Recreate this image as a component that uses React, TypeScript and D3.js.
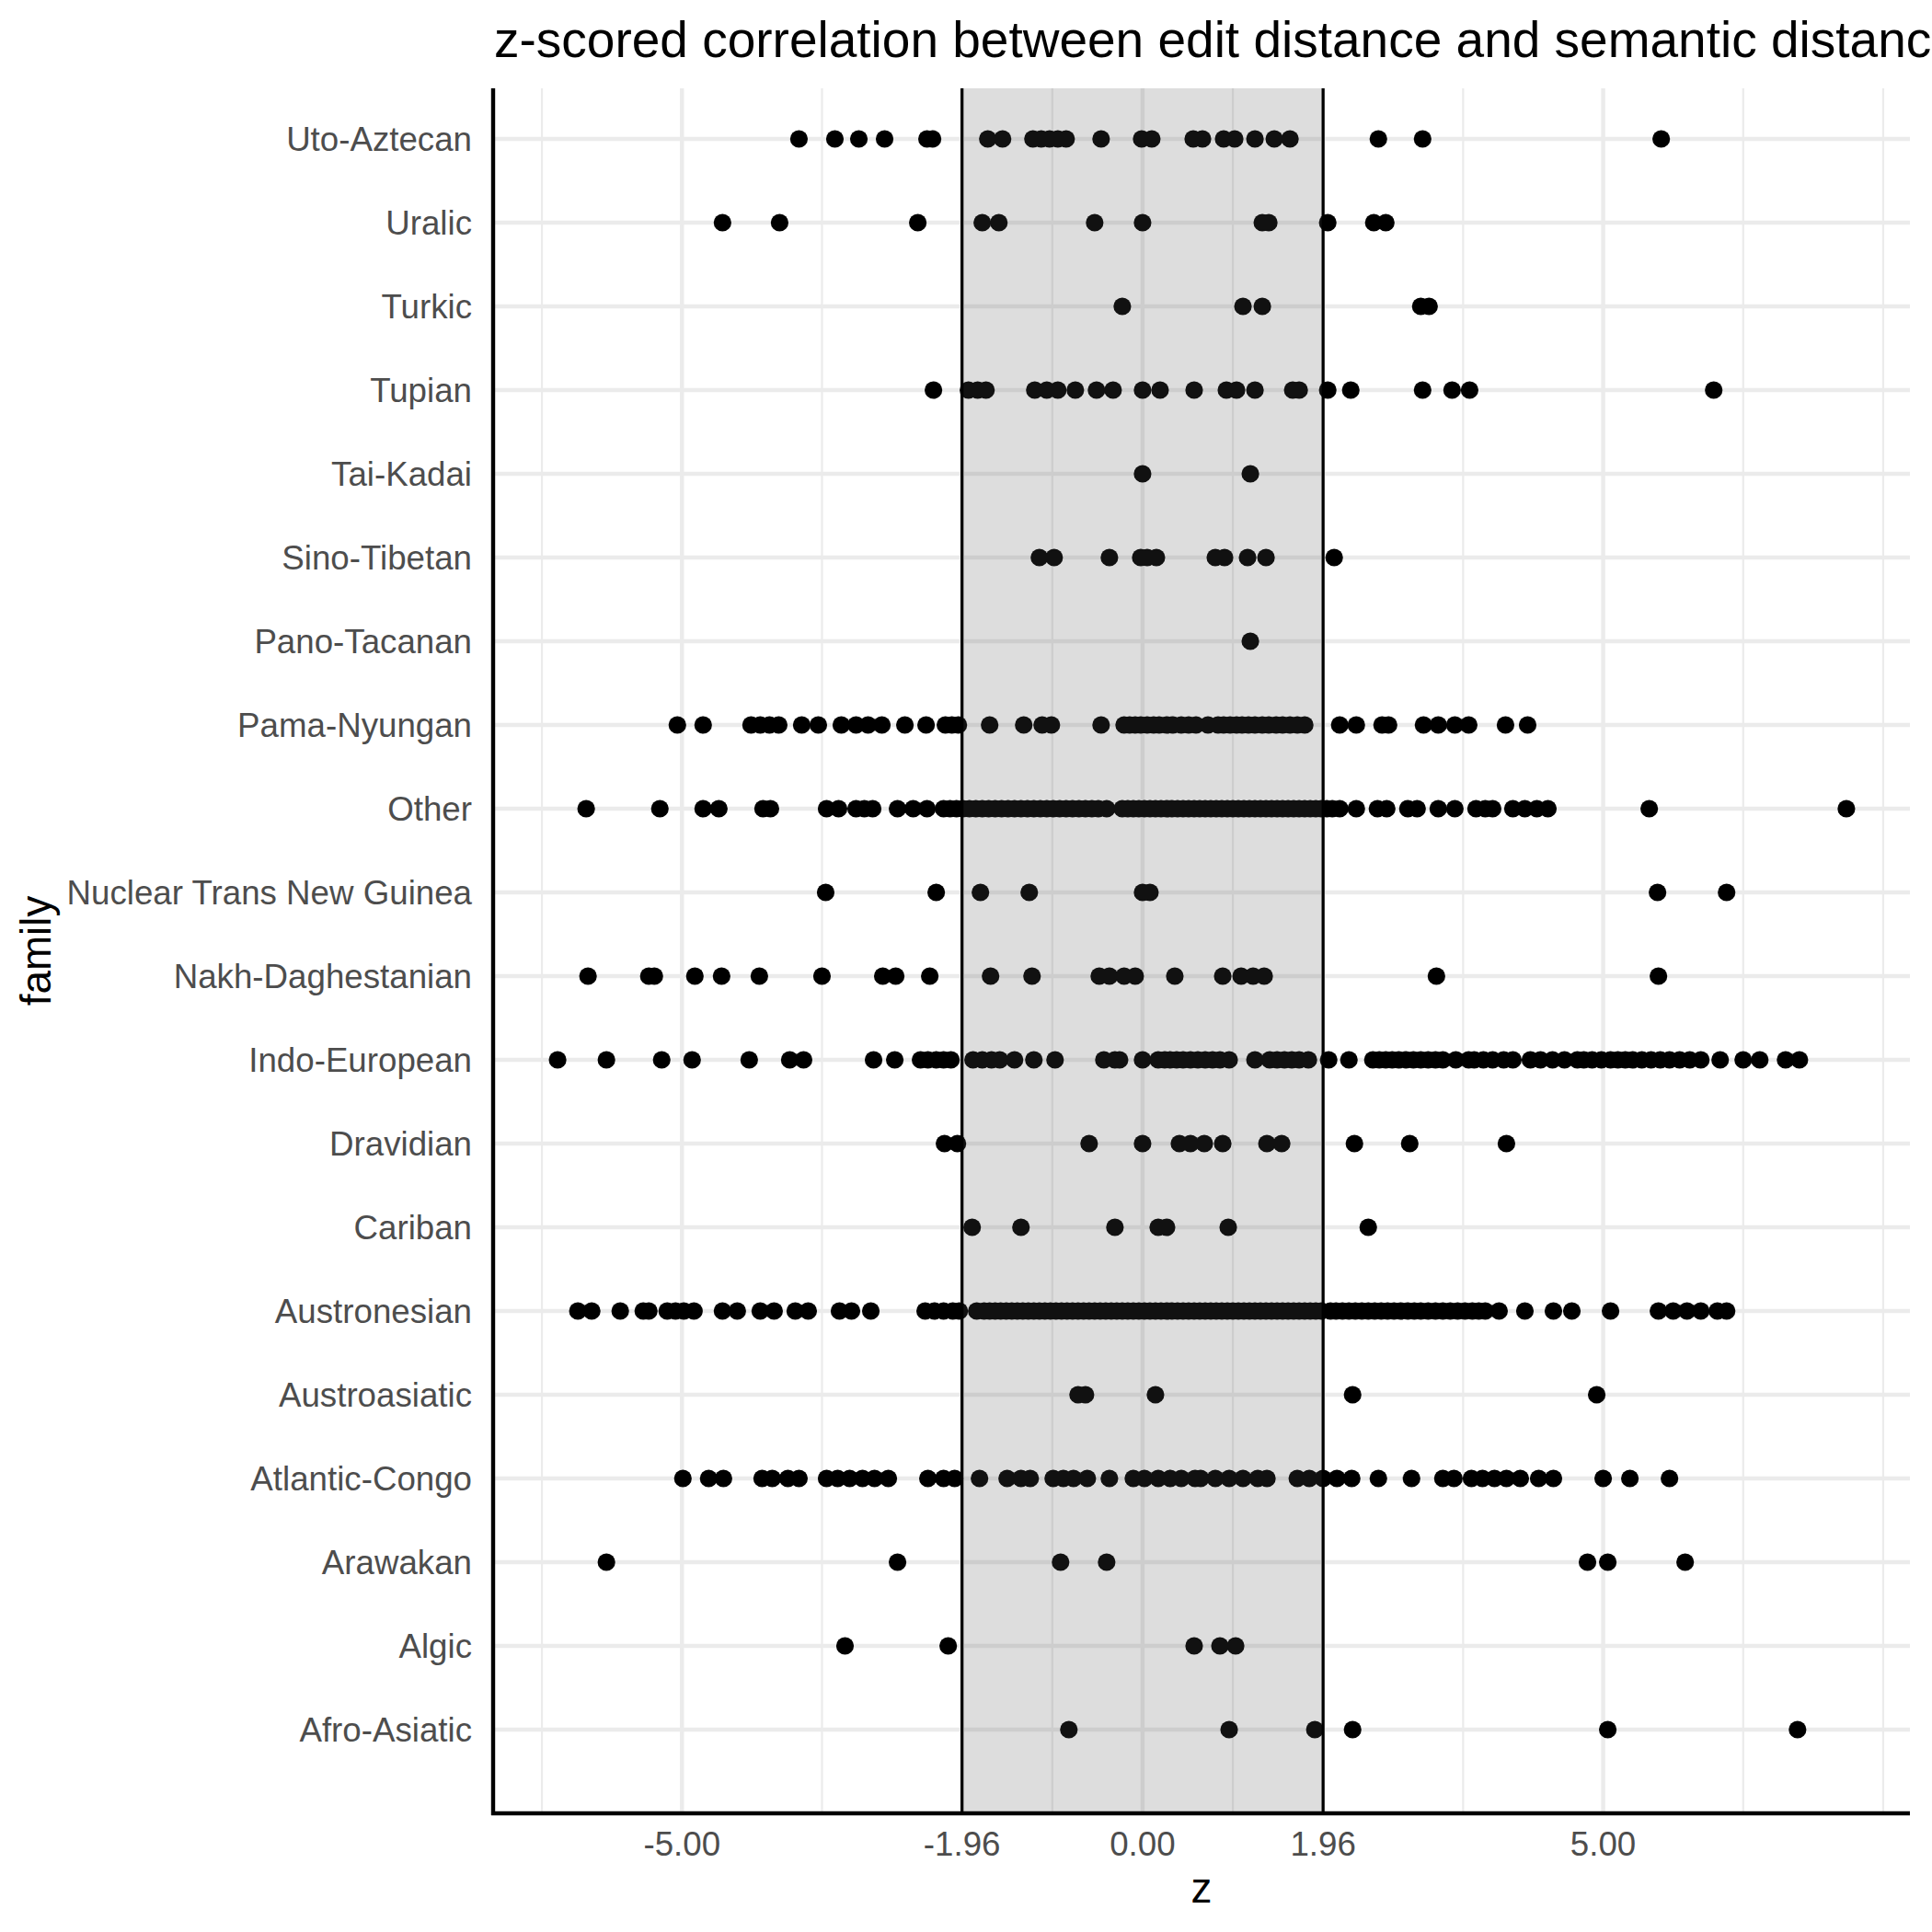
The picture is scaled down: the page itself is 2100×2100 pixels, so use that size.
import React from "react";
import * as d3 from "d3";

// ---- data (z values per language family) ----
const families = [
  "Uto-Aztecan", "Uralic", "Turkic", "Tupian", "Tai-Kadai", "Sino-Tibetan",
  "Pano-Tacanan", "Pama-Nyungan", "Other", "Nuclear Trans New Guinea",
  "Nakh-Daghestanian", "Indo-European", "Dravidian", "Cariban", "Austronesian",
  "Austroasiatic", "Atlantic-Congo", "Arawakan", "Algic", "Afro-Asiatic",
];

const utoAztecan = [-3.73, -3.34, -3.08, -2.8, -2.34, -2.28, -1.68, -1.52, -1.19, -1.1, -1.01, -0.92, -0.83, -0.45, -0.01, 0.1, 0.55, 0.65, 0.88, 1.0, 1.22, 1.43, 1.6, 2.56, 3.04, 5.63];
const uralic = [-4.56, -3.94, -2.44, -1.74, -1.56, -0.52, 0.0, 1.3, 1.37, 2.01, 2.51, 2.64];
const turkic = [-0.22, 1.09, 1.3, 3.02, 3.11];
const tupian = [-2.27, -1.89, -1.79, -1.7, -1.17, -1.04, -0.92, -0.73, -0.5, -0.32, 0.0, 0.19, 0.56, 0.91, 1.02, 1.22, 1.63, 1.7, 2.01, 2.26, 3.04, 3.36, 3.55, 6.2];
const taiKadai = [0.0, 1.17];
const sinoTibetan = [-1.12, -0.96, -0.36, -0.02, 0.05, 0.15, 0.79, 0.89, 1.14, 1.34, 2.08];
const panoTacanan = [1.17];
const pamaNyungan = [-5.05, -4.77, -4.25, -4.15, -4.05, -3.95, -3.7, -3.52, -3.27, -3.11, -2.98, -2.83, -2.58, -2.35, -2.14, -2.07, -2.0, -1.66, -1.29, -1.09, -0.99, -0.45, -0.2, -0.14, -0.08, -0.02, 0.05, 0.12, 0.18, 0.26, 0.33, 0.42, 0.5, 0.58, 0.71, 0.82, 0.88, 0.95, 1.02, 1.08, 1.15, 1.22, 1.3, 1.37, 1.45, 1.52, 1.6, 1.68, 1.76, 2.14, 2.32, 2.6, 2.67, 3.05, 3.21, 3.39, 3.54, 3.94, 4.18];
const other = [-6.04, -5.24, -4.77, -4.6, -4.12, -4.04, -3.43, -3.3, -3.11, -3.02, -2.93, -2.66, -2.49, -2.34, -2.16, -2.09, -2.02, -1.95, -1.88, -1.81, -1.74, -1.67, -1.6, -1.53, -1.46, -1.39, -1.32, -1.25, -1.18, -1.11, -1.04, -0.97, -0.9, -0.83, -0.76, -0.69, -0.62, -0.55, -0.48, -0.39, -0.22, -0.16, -0.1, -0.04, 0.02, 0.08, 0.14, 0.2, 0.26, 0.32, 0.38, 0.44, 0.5, 0.56, 0.62, 0.68, 0.74, 0.8, 0.86, 0.92, 0.98, 1.04, 1.1, 1.16, 1.22, 1.28, 1.34, 1.4, 1.46, 1.52, 1.58, 1.64, 1.7, 1.76, 1.82, 1.88, 1.94, 2.0, 2.06, 2.14, 2.32, 2.55, 2.65, 2.88, 2.98, 3.21, 3.39, 3.62, 3.72, 3.8, 4.02, 4.15, 4.28, 4.4, 5.5, 7.64];
const nuclearTNG = [-3.44, -2.24, -1.76, -1.23, 0.0, 0.08, 5.59, 6.34];
const nakhDaghestanian = [-6.02, -5.36, -5.3, -4.86, -4.57, -4.16, -3.48, -2.82, -2.68, -2.31, -1.65, -1.2, -0.47, -0.36, -0.2, -0.08, 0.35, 0.87, 1.07, 1.2, 1.32, 3.19, 5.6];
const indoEuropean = [-6.35, -5.82, -5.22, -4.89, -4.27, -3.83, -3.68, -2.92, -2.69, -2.41, -2.33, -2.24, -2.16, -2.08, -1.84, -1.74, -1.64, -1.55, -1.39, -1.18, -0.95, -0.42, -0.3, -0.25, 0.0, 0.17, 0.24, 0.3, 0.37, 0.44, 0.52, 0.6, 0.68, 0.76, 0.84, 0.94, 1.22, 1.38, 1.46, 1.54, 1.62, 1.7, 1.8, 2.02, 2.24, 2.5, 2.57, 2.64, 2.71, 2.78, 2.86, 2.94, 3.02, 3.1, 3.18, 3.26, 3.4, 3.54, 3.6, 3.7, 3.8, 3.92, 4.02, 4.21, 4.32, 4.45, 4.58, 4.72, 4.79, 4.88, 4.98, 5.08, 5.16, 5.24, 5.32, 5.42, 5.52, 5.62, 5.72, 5.83, 5.94, 6.06, 6.27, 6.52, 6.7, 6.98, 7.13];
const dravidian = [-2.15, -2.01, -0.58, 0.0, 0.4, 0.52, 0.67, 0.87, 1.35, 1.51, 2.3, 2.9, 3.95];
const cariban = [-1.85, -1.32, -0.3, 0.17, 0.26, 0.93, 2.45];
const austronesian = [-6.13, -5.98, -5.67, -5.42, -5.36, -5.16, -5.07, -4.98, -4.87, -4.56, -4.4, -4.15, -4.0, -3.77, -3.63, -3.29, -3.16, -2.95, -2.36, -2.26, -2.16, -2.06, -1.99, -1.8, -1.72, -1.66, -1.6, -1.54, -1.48, -1.42, -1.36, -1.3, -1.24, -1.18, -1.12, -1.06, -1.0, -0.94, -0.88, -0.82, -0.76, -0.7, -0.64, -0.58, -0.52, -0.46, -0.4, -0.34, -0.28, -0.22, -0.16, -0.1, -0.04, 0.02, 0.08, 0.14, 0.2, 0.26, 0.32, 0.38, 0.44, 0.5, 0.56, 0.62, 0.68, 0.74, 0.8, 0.86, 0.92, 0.98, 1.04, 1.1, 1.16, 1.22, 1.28, 1.34, 1.4, 1.46, 1.52, 1.58, 1.64, 1.7, 1.76, 1.82, 1.88, 1.94, 2.04, 2.1, 2.17, 2.24, 2.31, 2.38, 2.45, 2.52, 2.59, 2.66, 2.73, 2.8, 2.88, 2.95, 3.02, 3.1, 3.18, 3.26, 3.34, 3.42, 3.5, 3.58, 3.65, 3.72, 3.87, 4.15, 4.46, 4.66, 5.08, 5.6, 5.76, 5.91, 6.06, 6.24, 6.34];
const austroasiatic = [-0.7, -0.62, 0.14, 2.28, 4.93];
const atlanticCongo = [-4.99, -4.71, -4.55, -4.13, -4.02, -3.85, -3.73, -3.43, -3.31, -3.18, -3.04, -2.91, -2.76, -2.33, -2.16, -2.04, -1.77, -1.47, -1.32, -1.22, -0.97, -0.86, -0.75, -0.6, -0.36, -0.1, 0.02, 0.17, 0.3, 0.42, 0.57, 0.63, 0.79, 0.94, 1.09, 1.25, 1.35, 1.68, 1.81, 1.96, 2.11, 2.27, 2.56, 2.92, 3.26, 3.38, 3.57, 3.69, 3.82, 3.95, 4.1, 4.3, 4.46, 5.0, 5.29, 5.72];
const arawakan = [-5.82, -2.66, -0.89, -0.39, 4.83, 5.05, 5.89];
const algic = [-3.23, -2.11, 0.56, 0.84, 1.01];
const afroAsiatic = [-0.8, 0.94, 1.87, 2.28, 5.05, 7.11];

const familyValues = [
  utoAztecan, uralic, turkic, tupian, taiKadai, sinoTibetan, panoTacanan,
  pamaNyungan, other, nuclearTNG, nakhDaghestanian, indoEuropean, dravidian,
  cariban, austronesian, austroasiatic, atlanticCongo, arawakan, algic, afroAsiatic,
];

const xBreaks = [-5, -1.96, 0, 1.96, 5];
const xBreakLabels = ["-5.00", "-1.96", "0.00", "1.96", "5.00"];
const xMinorBreaks = [-8.04, -6.52, -3.48, -0.98, 0.98, 3.48, 6.52, 8.04];
const criticalZ = [-1.96, 1.96];

const title = "z-scored correlation between edit distance and semantic distance";
const xTitle = "z";
const yTitle = "family";

export default function App() {
  const W = 2100;
  const H = 2100;
  const panel = { left: 536, right: 2076, top: 96, bottom: 1971 };
  const font = "'Liberation Sans', Arial, Helvetica, sans-serif";

  const x = d3.scaleLinear().domain([-7.05, 8.33]).range([panel.left, panel.right]);
  const y = d3.scalePoint<string>().domain(families).range([151, 1880]).padding(0);

  const points: { f: string; v: number; k: string }[] = [];
  families.forEach((f, i) => {
    familyValues[i].forEach((v, j) => points.push({ f, v, k: `${i}-${j}` }));
  });

  const inPanel = (v: number) => x(v) >= panel.left && x(v) <= panel.right;

  return (
    <svg
      width={W}
      height={H}
      viewBox={`0 0 ${W} ${H}`}
      style={{ position: "absolute", left: 0, top: 0, background: "#fff" }}
      fontFamily={font}
    >
      <rect x={0} y={0} width={W} height={H} fill="#fff" />
      {/* minor grid */}
      {xMinorBreaks.filter(inPanel).map((b) => (
        <line key={`mn${b}`} x1={x(b)} x2={x(b)} y1={panel.top} y2={panel.bottom} stroke="#EBEBEB" strokeWidth={2.2} />
      ))}
      {/* major grid */}
      {xBreaks.map((b) => (
        <line key={`mj${b}`} x1={x(b)} x2={x(b)} y1={panel.top} y2={panel.bottom} stroke="#EBEBEB" strokeWidth={4.4} />
      ))}
      {families.map((f) => (
        <line key={`hg${f}`} x1={panel.left} x2={panel.right} y1={y(f)} y2={y(f)} stroke="#EBEBEB" strokeWidth={4.4} />
      ))}
      {/* points */}
      {points.map((p) => (
        <circle key={p.k} cx={x(p.v)} cy={y(p.f) as number} r={9.6} fill="#000" />
      ))}
      {/* shaded non-significant band */}
      <rect
        x={x(criticalZ[0])}
        y={panel.top}
        width={x(criticalZ[1]) - x(criticalZ[0])}
        height={panel.bottom - panel.top}
        fill="#555555"
        fillOpacity={0.2}
      />
      {criticalZ.map((c) => (
        <line key={`v${c}`} x1={x(c)} x2={x(c)} y1={panel.top} y2={panel.bottom} stroke="#000" strokeWidth={3.2} />
      ))}
      {/* axis lines */}
      <line x1={panel.left} x2={panel.left} y1={panel.top} y2={panel.bottom + 2} stroke="#000" strokeWidth={4.4} />
      <line x1={panel.left - 2} x2={panel.right} y1={panel.bottom} y2={panel.bottom} stroke="#000" strokeWidth={4.4} />
      {/* y labels */}
      {families.map((f) => (
        <text key={`yl${f}`} x={513} y={(y(f) as number) + 13} textAnchor="end" fontSize={36.7} fill="#4D4D4D">
          {f}
        </text>
      ))}
      {/* x labels */}
      {xBreaks.map((b, i) => (
        <text key={`xl${b}`} x={x(b)} y={2017} textAnchor="middle" fontSize={36.7} fill="#4D4D4D">
          {xBreakLabels[i]}
        </text>
      ))}
      {/* titles */}
      <text x={(panel.left + panel.right) / 2} y={2068} textAnchor="middle" fontSize={45.8} fill="#000">
        {xTitle}
      </text>
      <text
        transform={`translate(55, ${(panel.top + panel.bottom) / 2}) rotate(-90)`}
        textAnchor="middle"
        fontSize={45.8}
        fill="#000"
      >
        {yTitle}
      </text>
      <text x={537} y={62} fontSize={55} fill="#000">
        {title}
      </text>
    </svg>
  );
}
